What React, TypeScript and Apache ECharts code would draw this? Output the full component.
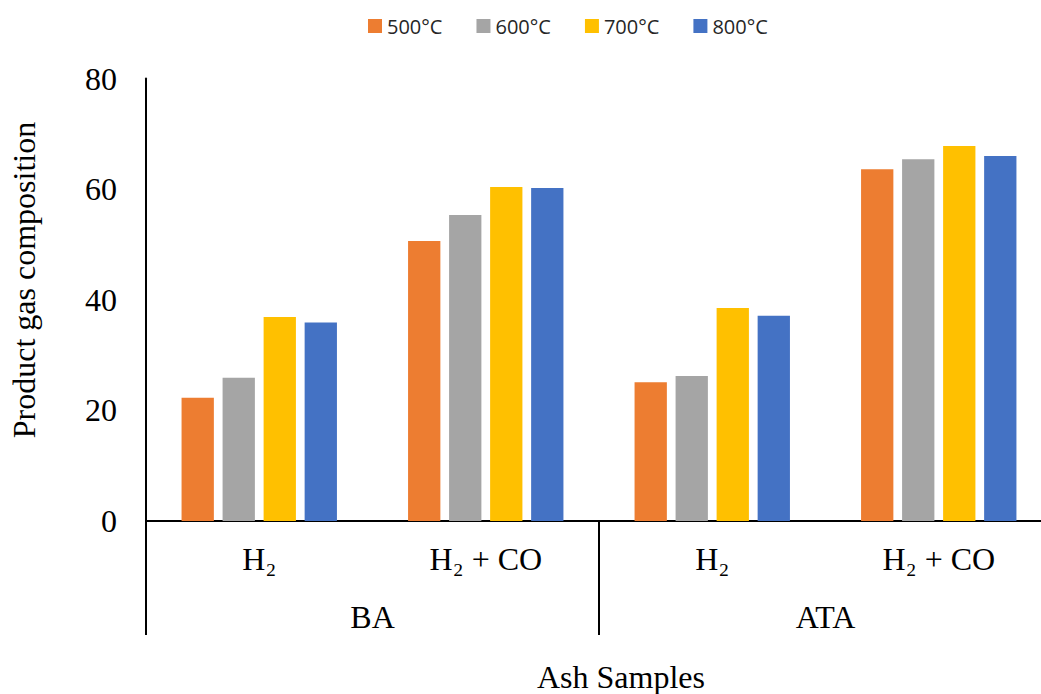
import React, { useEffect, useRef } from "react";
import * as echarts from "echarts";

const subCategories = ["H₂", "H₂ + CO", "H₂", "H₂ + CO"];
const groups = ["BA", "ATA"];
const seriesNames = ["500°C", "600°C", "700°C", "800°C"];
const values500 = [22.3, 50.6, 25.1, 63.6];
const values600 = [25.9, 55.3, 26.2, 65.4];
const values700 = [36.9, 60.4, 38.5, 67.8];
const values800 = [35.9, 60.2, 37.1, 66.0];
const colors = ["#ED7D31", "#A5A5A5", "#FFC000", "#4472C4"];
const yTicks = { min: 0, max: 80, interval: 20 };

const serif = "'Liberation Serif', 'Times New Roman', 'DejaVu Serif', serif";

export default function App() {
  const ref = useRef<HTMLDivElement>(null);
  useEffect(() => {
    if (!ref.current) return;
    const chart = echarts.init(ref.current, undefined, { renderer: "svg" });
    const allValues = [values500, values600, values700, values800];
    chart.setOption({
      animation: false,
      backgroundColor: "#ffffff",
      legend: {
        top: 11,
        left: 363,
        itemWidth: 14,
        itemHeight: 14,
        itemGap: 34,
        icon: "rect",
        textStyle: { fontFamily: "'Open Sans', 'Noto Sans', sans-serif", fontSize: 20, color: "#262626", padding: [0, 0, 0, 0] },
        data: seriesNames,
      },
      grid: { left: 146, top: 78.5, width: 906, height: 442.5, containLabel: false },
      xAxis: [
        {
          type: "category",
          data: subCategories,
          position: "bottom",
          axisLine: { show: true, lineStyle: { color: "#000", width: 2 } },
          axisTick: { show: false },
          axisLabel: { fontFamily: serif, fontSize: 32, color: "#000", margin: 22 },
          splitLine: { show: false },
        },
        {
          type: "category",
          data: groups,
          position: "bottom",
          axisLine: { show: false },
          axisTick: { show: true, length: 114, lineStyle: { color: "#000", width: 2 } },
          axisLabel: { fontFamily: serif, fontSize: 32, color: "#000", margin: 80 },
          splitLine: { show: false },
        },
      ],
      yAxis: {
        type: "value",
        min: yTicks.min,
        max: yTicks.max,
        interval: yTicks.interval,
        axisLine: { show: true, lineStyle: { color: "#000", width: 2 } },
        axisTick: { show: false },
        splitLine: { show: false },
        axisLabel: { fontFamily: serif, fontSize: 32, color: "#000", margin: 29 },
      },
      graphic: [
        {
          type: "text",
          x: 24,
          y: 280,
          rotation: Math.PI / 2,
          style: {
            text: "Product gas composition",
            fontFamily: serif,
            fontSize: 32,
            fill: "#000",
            align: "center",
            verticalAlign: "middle",
          },
        },
        {
          type: "text",
          x: 621,
          y: 677,
          style: {
            text: "Ash Samples",
            fontFamily: serif,
            fontSize: 32,
            fill: "#000",
            align: "center",
            verticalAlign: "middle",
          },
        },
      ],
      series: seriesNames.map((name, i) => ({
        name,
        type: "bar",
        xAxisIndex: 0,
        data: allValues[i],
        barGap: "27%",
        barCategoryGap: "31.4%",
        itemStyle: { color: colors[i] },
      })),
    });
    return () => chart.dispose();
  }, []);
  return (
    <div style={{ position: "absolute", left: 0, top: 0, width: 1041, height: 694, overflow: "hidden", background: "#fff" }}>
      <div ref={ref} style={{ position: "absolute", left: 0, top: 0, width: 1070, height: 694 }} />
    </div>
  );
}
